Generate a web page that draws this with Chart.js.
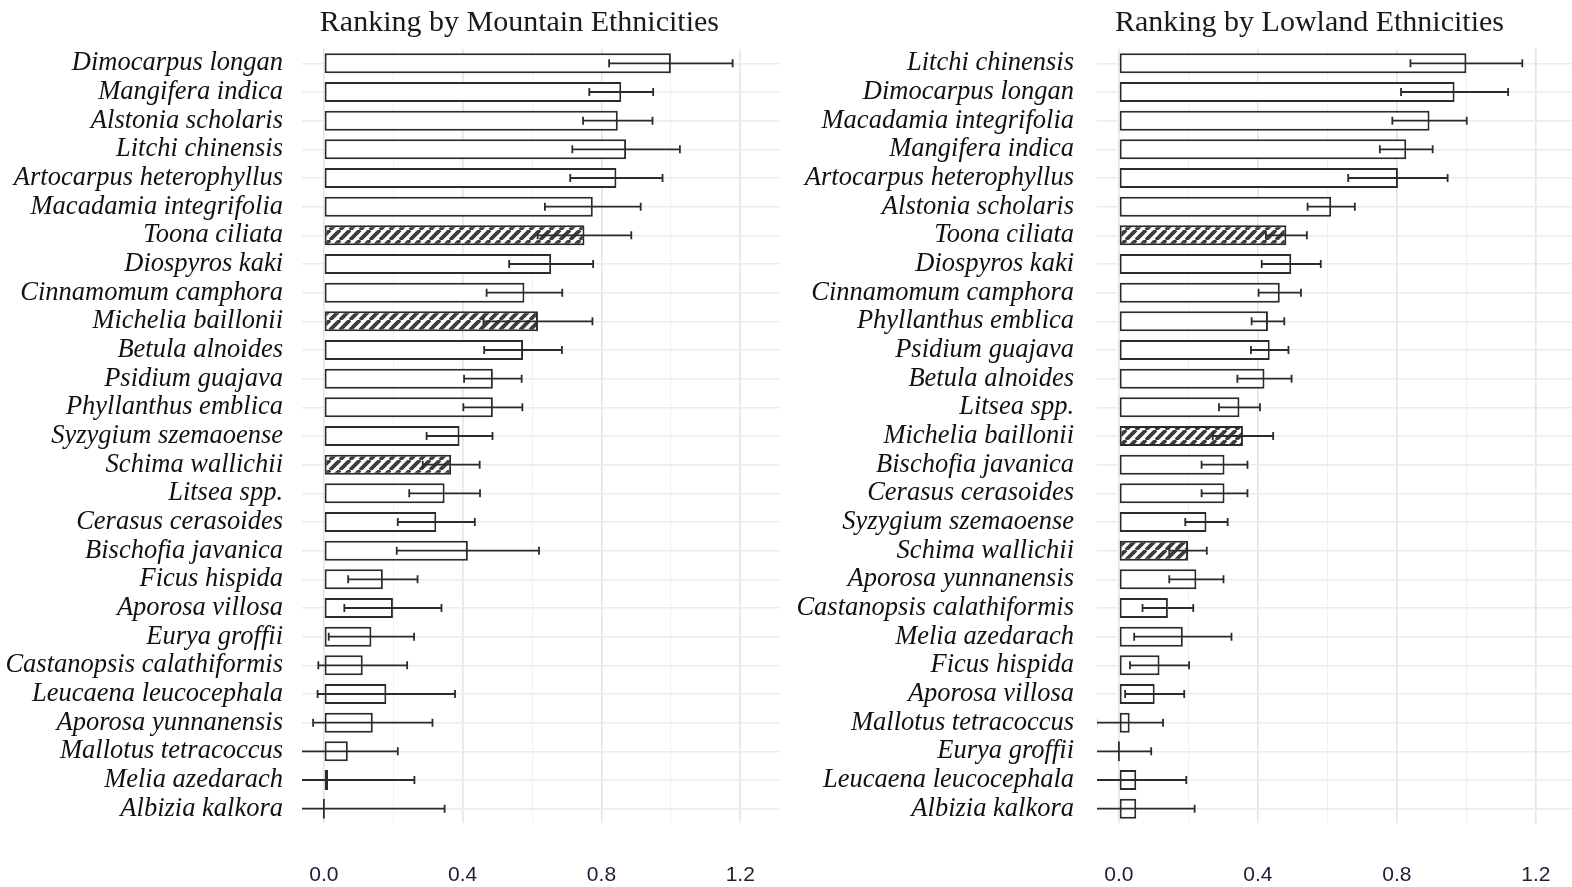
<!DOCTYPE html>
<html>
<head>
<meta charset="utf-8">
<script src="https://cdn.jsdelivr.net/npm/chart.js@4.4.0/dist/chart.umd.min.js"></script>
<style>
  body { margin: 0; background: #fff; }
  .panel { position: absolute; top: 0; }
</style>
</head>
<body>
<div class="panel" style="left:0"><canvas id="mountainChart" width="786" height="887"></canvas></div>
<div class="panel" style="left:786px"><canvas id="lowlandChart" width="786" height="887"></canvas></div>
<script>
// Mountain ethnicities ranking
const mtnSpecies = ['Dimocarpus longan', 'Mangifera indica', 'Alstonia scholaris', 'Litchi chinensis',
    'Artocarpus heterophyllus', 'Macadamia integrifolia', 'Toona ciliata', 'Diospyros kaki',
    'Cinnamomum camphora', 'Michelia baillonii', 'Betula alnoides', 'Psidium guajava',
    'Phyllanthus emblica', 'Syzygium szemaoense', 'Schima wallichii', 'Litsea spp.',
    'Cerasus cerasoides', 'Bischofia javanica', 'Ficus hispida', 'Aporosa villosa',
    'Eurya groffii', 'Castanopsis calathiformis', 'Leucaena leucocephala', 'Aporosa yunnanensis',
    'Mallotus tetracoccus', 'Melia azedarach', 'Albizia kalkora'];
const mtnMean = [1.0, 0.857, 0.847, 0.871, 0.843, 0.775, 0.751, 0.655, 0.578, 0.617, 0.574, 0.487,
    0.487, 0.391, 0.367, 0.348, 0.324, 0.415, 0.170, 0.199, 0.137, 0.112, 0.180, 0.141, 0.069, 0.012, 0];
const mtnErr = [0.178, 0.092, 0.100, 0.155, 0.133, 0.138, 0.135, 0.121, 0.109, 0.157, 0.112, 0.083,
    0.085, 0.095, 0.082, 0.102, 0.111, 0.205, 0.100, 0.140, 0.123, 0.128, 0.198, 0.172, 0.144, 0.249, 0.348];

// Lowland ethnicities ranking
const lowSpecies = ['Litchi chinensis', 'Dimocarpus longan', 'Macadamia integrifolia', 'Mangifera indica',
    'Artocarpus heterophyllus', 'Alstonia scholaris', 'Toona ciliata', 'Diospyros kaki',
    'Cinnamomum camphora', 'Phyllanthus emblica', 'Psidium guajava', 'Betula alnoides',
    'Litsea spp.', 'Michelia baillonii', 'Bischofia javanica', 'Cerasus cerasoides',
    'Syzygium szemaoense', 'Schima wallichii', 'Aporosa yunnanensis', 'Castanopsis calathiformis',
    'Melia azedarach', 'Ficus hispida', 'Aporosa villosa', 'Mallotus tetracoccus',
    'Eurya groffii', 'Leucaena leucocephala', 'Albizia kalkora'];
const lowMean = [1.0, 0.966, 0.894, 0.827, 0.803, 0.611, 0.482, 0.496, 0.463, 0.429, 0.434, 0.419,
    0.347, 0.357, 0.304, 0.304, 0.252, 0.199, 0.223, 0.141, 0.184, 0.117, 0.103, 0.031, 0, 0.050, 0.050];
const lowErr = [0.161, 0.154, 0.107, 0.076, 0.143, 0.068, 0.059, 0.085, 0.061, 0.047, 0.054, 0.078,
    0.059, 0.087, 0.066, 0.066, 0.061, 0.054, 0.078, 0.073, 0.140, 0.085, 0.085, 0.096, 0.093, 0.144, 0.168];

// species drawn with the striped fill
const hatchedSpecies = ['Toona ciliata', 'Michelia baillonii', 'Schima wallichii'];

const xTicks = [0, 0.2, 0.4, 0.6, 0.8, 1.0, 1.2];
const xTickLabels = [0, 0.4, 0.8, 1.2];

const ink = '#2b2b2b';

function makeHatch() {
    const p = 10;
    const c = document.createElement('canvas');
    c.width = p; c.height = p;
    const g = c.getContext('2d');
    g.fillStyle = '#fff';
    g.fillRect(0, 0, p, p);
    g.strokeStyle = '#3d3d3d';
    g.lineWidth = 3.8;
    g.beginPath();
    for (let k = -1; k <= 1; k++) {
        g.moveTo(k * p, p);
        g.lineTo(k * p + p, 0);
    }
    g.stroke();
    return g.createPattern(c, 'repeat');
}
const hatch = makeHatch();

const errorBars = {
    id: 'errorBars',
    afterDatasetsDraw(chart) {
        const {ctx, chartArea, scales: {x}} = chart;
        const ds = chart.data.datasets[0];
        const meta = chart.getDatasetMeta(0);
        ctx.save();
        ctx.beginPath();
        ctx.rect(chartArea.left, chartArea.top, chartArea.width, chartArea.height);
        ctx.clip();
        ctx.strokeStyle = ink;
        ctx.lineWidth = 1.8;
        meta.data.forEach((bar, i) => {
            const y = bar.y;
            const lo = x.getPixelForValue(ds.data[i] - ds.errors[i]);
            const hi = x.getPixelForValue(ds.data[i] + ds.errors[i]);
            ctx.beginPath();
            ctx.moveTo(lo, y); ctx.lineTo(hi, y);
            ctx.moveTo(lo, y - 4); ctx.lineTo(lo, y + 4);
            ctx.moveTo(hi, y - 4); ctx.lineTo(hi, y + 4);
            ctx.stroke();
        });
        ctx.restore();
    }
};

const panelTitle = {
    id: 'panelTitle',
    afterDraw(chart, args, opts) {
        const ctx = chart.ctx;
        ctx.save();
        ctx.font = '30px "Liberation Serif"';
        ctx.fillStyle = '#1a1a1a';
        ctx.textAlign = 'left';
        ctx.textBaseline = 'alphabetic';
        ctx.fillText(opts.text, chart.scales.x.getPixelForValue(0) - 4, 31);
        ctx.restore();
    }
};

function makeChart(id, title, species, mean, err, xMax, axisWidth, labelPad, padRight) {
    return new Chart(document.getElementById(id), {
        type: 'bar',
        data: {
            labels: species,
            datasets: [{
                data: mean,
                errors: err,
                backgroundColor: species.map(s => hatchedSpecies.includes(s) ? hatch : '#fff'),
                borderColor: ink,
                borderWidth: 2,
                borderSkipped: false,
                barPercentage: 0.7,
                categoryPercentage: 1,
                minBarLength: 2
            }]
        },
        options: {
            indexAxis: 'y',
            responsive: false,
            animation: false,
            layout: {padding: {top: 49, right: padRight, left: 0, bottom: 0}},
            plugins: {
                legend: {display: false},
                tooltip: {enabled: false},
                panelTitle: {text: title}
            },
            scales: {
                x: {
                    min: -0.063,
                    max: xMax,
                    afterBuildTicks: s => { s.ticks = xTicks.map(v => ({value: v})); },
                    afterFit: s => { s.height = 64; },
                    border: {display: false},
                    grid: {
                        drawTicks: true,
                        tickLength: 40,
                        tickColor: 'rgba(0,0,0,0)',
                        color: c => xTickLabels.includes(c.tick.value) ? '#e4e4e4' : '#f1f1f1',
                        lineWidth: c => xTickLabels.includes(c.tick.value) ? 1.6 : 1
                    },
                    ticks: {
                        padding: 0,
                        autoSkip: false,
                        maxRotation: 0,
                        color: '#1e1e36',
                        font: {family: '"Liberation Sans"', size: 21},
                        callback: v => xTickLabels.includes(v) ? v.toFixed(1) : ''
                    }
                },
                y: {
                    afterFit: s => { s.width = axisWidth; },
                    border: {display: false},
                    grid: {offset: false, drawTicks: false, color: '#ebebeb', lineWidth: 1.6},
                    ticks: {
                        padding: labelPad,
                        autoSkip: false,
                        color: '#111',
                        font: {family: '"Liberation Serif"', style: 'italic', size: 26.5}
                    }
                }
            }
        },
        plugins: [errorBars, panelTitle]
    });
}

makeChart('mountainChart', 'Ranking by Mountain Ethnicities', mtnSpecies, mtnMean, mtnErr, 1.3116, 302, 19, 7);
makeChart('lowlandChart', 'Ranking by Lowland Ethnicities', lowSpecies, lowMean, lowErr, 1.304, 311, 23, 0);
</script>
</body>
</html>
